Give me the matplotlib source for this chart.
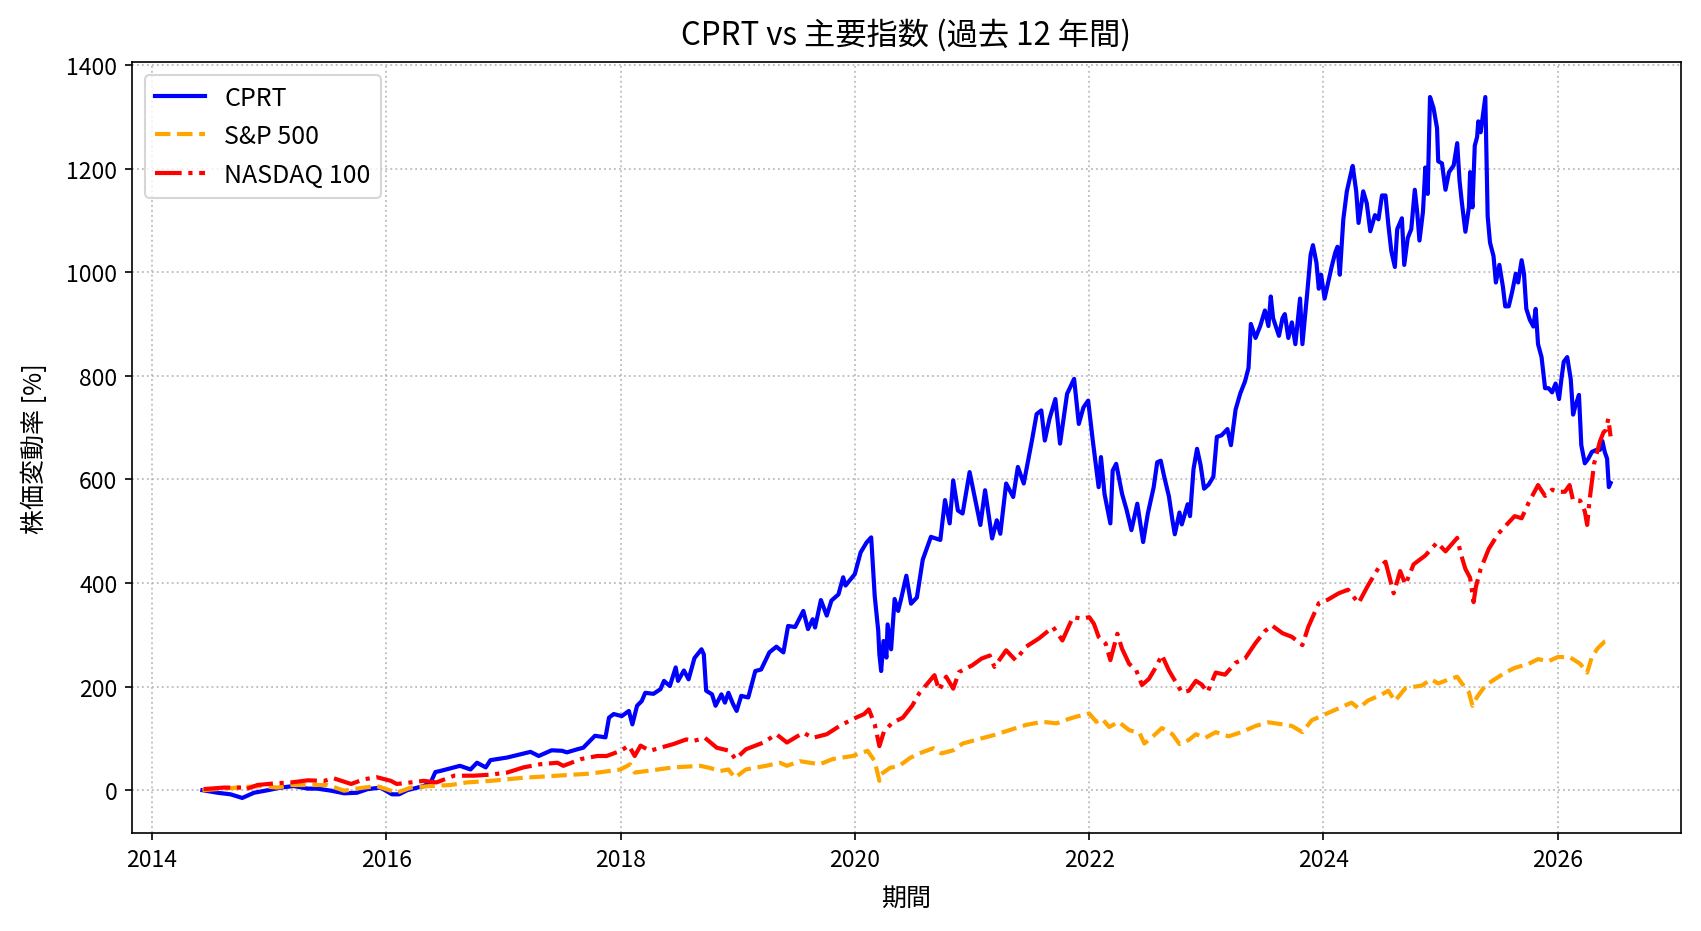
import matplotlib
matplotlib.use("Agg")
import matplotlib.pyplot as plt
import matplotlib.dates as mdates
import pandas as pd

plt.rcParams['font.family'] = ['Noto Sans CJK JP', 'DejaVu Sans']

# ---- data (fractional year, % change) ----
cprt_t = [
    2014.43, 2014.56, 2014.67, 2014.77, 2014.87, 2014.99, 2015.10, 2015.21, 2015.33, 2015.41,
    2015.53, 2015.64, 2015.75, 2015.84, 2015.95, 2016.05, 2016.11, 2016.18, 2016.32, 2016.38,
    2016.42, 2016.46, 2016.63, 2016.72, 2016.775, 2016.85, 2016.89, 2017.03, 2017.14, 2017.23,
    2017.30, 2017.37, 2017.41, 2017.50, 2017.54, 2017.63, 2017.68, 2017.78, 2017.87, 2017.90,
    2017.94, 2018.01, 2018.07, 2018.10, 2018.14, 2018.18, 2018.21, 2018.28, 2018.34, 2018.37,
    2018.42, 2018.47, 2018.49, 2018.54, 2018.58, 2018.63, 2018.69, 2018.71, 2018.73, 2018.78,
    2018.81, 2018.86, 2018.89, 2018.92, 2018.96, 2018.99, 2019.03, 2019.09, 2019.15, 2019.20,
    2019.27, 2019.33, 2019.39, 2019.43, 2019.49, 2019.56, 2019.60, 2019.64, 2019.66, 2019.71,
    2019.76, 2019.80, 2019.86, 2019.90, 2019.92, 2020.00, 2020.05, 2020.10, 2020.14, 2020.17,
    2020.20, 2020.21, 2020.225, 2020.245, 2020.27, 2020.28, 2020.31, 2020.34, 2020.37, 2020.395,
    2020.44, 2020.48, 2020.53, 2020.58, 2020.62, 2020.65, 2020.73, 2020.77, 2020.81, 2020.84,
    2020.88, 2020.92, 2020.98, 2021.07, 2021.11, 2021.17, 2021.21, 2021.24, 2021.29, 2021.35,
    2021.39, 2021.44, 2021.51, 2021.55, 2021.59, 2021.62, 2021.66, 2021.71, 2021.75, 2021.81,
    2021.87, 2021.91, 2021.95, 2021.99, 2022.03, 2022.08, 2022.10, 2022.13, 2022.18, 2022.20,
    2022.23, 2022.28, 2022.32, 2022.36, 2022.41, 2022.46, 2022.50, 2022.55, 2022.58, 2022.61,
    2022.64, 2022.68, 2022.71, 2022.73, 2022.77, 2022.79, 2022.84, 2022.86, 2022.89, 2022.92,
    2022.95, 2022.98, 2023.02, 2023.06, 2023.09, 2023.13, 2023.18, 2023.21, 2023.25, 2023.29,
    2023.33, 2023.36, 2023.38, 2023.42, 2023.46, 2023.50, 2023.53, 2023.55, 2023.57, 2023.62,
    2023.65, 2023.67, 2023.70, 2023.73, 2023.76, 2023.80, 2023.82, 2023.86, 2023.89, 2023.91,
    2023.94, 2023.96, 2023.98, 2024.01, 2024.04, 2024.07, 2024.10, 2024.12, 2024.14, 2024.17,
    2024.20, 2024.23, 2024.25, 2024.28, 2024.30, 2024.34, 2024.37, 2024.40, 2024.44, 2024.47,
    2024.50, 2024.53, 2024.555, 2024.58, 2024.61, 2024.63, 2024.67, 2024.69, 2024.72, 2024.75,
    2024.78, 2024.80, 2024.82, 2024.85, 2024.87, 2024.89, 2024.91, 2024.94, 2024.97, 2024.98,
    2025.01, 2025.04, 2025.07, 2025.11, 2025.14, 2025.16, 2025.18, 2025.21, 2025.24, 2025.25,
    2025.27, 2025.29, 2025.31, 2025.32, 2025.34, 2025.36, 2025.38, 2025.40, 2025.42, 2025.45,
    2025.47, 2025.50, 2025.53, 2025.55, 2025.58, 2025.61, 2025.64, 2025.66, 2025.69, 2025.71,
    2025.73, 2025.76, 2025.79, 2025.81, 2025.83, 2025.86, 2025.89, 2025.92, 2025.95, 2025.98,
    2026.01, 2026.03, 2026.05, 2026.08, 2026.11, 2026.13, 2026.15, 2026.18, 2026.20, 2026.23,
    2026.26, 2026.29, 2026.33, 2026.36, 2026.38, 2026.40, 2026.42, 2026.435, 2026.45,
]
cprt_v = [
    0, -5, -8, -15, -5, 0, 5, 8, 3, 3,
    -1, -6, -5, 2, 5, -8, -8, 0, 8, 15,
    35, 37, 47, 40, 53, 44, 58, 63, 69, 74,
    66, 73, 77, 76, 73, 79, 82, 105, 102, 140,
    147, 143, 153, 127, 163, 172, 188, 186, 195, 211,
    201, 237, 211, 231, 214, 255, 272, 262, 192, 185,
    163, 185, 169, 188, 166, 153, 182, 179, 230, 233,
    266, 277, 266, 317, 315, 346, 311, 330, 314, 367,
    337, 366, 378, 411, 395, 417, 459, 478, 488, 375,
    308, 262, 230, 288, 256, 320, 272, 369, 346, 369,
    414, 360, 372, 445, 470, 489, 483, 560, 515, 598,
    540, 534, 614, 512, 579, 486, 521, 495, 592, 566,
    624, 592, 675, 726, 733, 675, 717, 755, 669, 765,
    794, 707, 739, 752, 675, 585, 643, 572, 515, 617,
    630, 572, 540, 502, 553, 479, 534, 585, 633, 636,
    605, 567, 521, 494, 536, 513, 552, 529, 620, 659,
    628, 582, 590, 605, 682, 685, 697, 666, 735, 766,
    789, 815, 900, 873, 896, 926, 896, 953, 911, 877,
    911, 919, 873, 903, 861, 949, 861, 957, 1033, 1052,
    1018, 968, 995, 949, 980, 1010, 1037, 1049, 995, 1102,
    1156, 1186, 1205, 1156, 1095, 1156, 1133, 1079, 1110, 1102,
    1148, 1148, 1090, 1040, 1010, 1083, 1104, 1014, 1066, 1083,
    1159, 1117, 1061, 1117, 1202, 1151, 1338, 1317, 1278, 1214,
    1210, 1159, 1193, 1206, 1249, 1176, 1134, 1078, 1125, 1193,
    1125, 1244, 1261, 1291, 1270, 1304, 1338, 1108, 1057, 1031,
    980, 1014, 972, 934, 934, 963, 997, 980, 1023, 997,
    929, 908, 895, 929, 861, 836, 776, 776, 768, 785,
    755, 793, 827, 836, 793, 725, 742, 763, 666, 631,
    640, 653, 657, 657, 674, 653, 640, 585, 593,
]

sp_t = [
    2014.43, 2014.67, 2014.79, 2014.93, 2015.07, 2015.19, 2015.35, 2015.50, 2015.64, 2015.72,
    2015.81, 2015.92, 2016.04, 2016.09, 2016.21, 2016.38, 2016.55, 2016.69, 2016.89, 2017.17,
    2017.46, 2017.74, 2018.00, 2018.08, 2018.12, 2018.22, 2018.45, 2018.68, 2018.76, 2018.85,
    2018.92, 2018.975, 2019.07, 2019.24, 2019.36, 2019.42, 2019.53, 2019.70, 2019.81, 2019.98,
    2020.11, 2020.17, 2020.21, 2020.225, 2020.30, 2020.38, 2020.47, 2020.55, 2020.67, 2020.74,
    2020.84, 2020.92, 2021.03, 2021.18, 2021.32, 2021.46, 2021.60, 2021.72, 2021.83, 2021.89,
    2022.00, 2022.06, 2022.11, 2022.17, 2022.25, 2022.34, 2022.43, 2022.47, 2022.54, 2022.62,
    2022.71, 2022.77, 2022.85, 2022.91, 2022.99, 2023.08, 2023.19, 2023.30, 2023.42, 2023.53,
    2023.65, 2023.73, 2023.82, 2023.90, 2024.01, 2024.13, 2024.24, 2024.30, 2024.38, 2024.50,
    2024.555, 2024.61, 2024.70, 2024.84, 2024.92, 2024.98, 2025.07, 2025.14, 2025.18, 2025.24,
    2025.27, 2025.31, 2025.38, 2025.46, 2025.55, 2025.63, 2025.75, 2025.83, 2025.92, 2026.00,
    2026.10, 2026.19, 2026.25, 2026.29, 2026.34, 2026.40, 2026.45,
]
sp_v = [
    0, 4, 6, 8, 5, 10, 10, 10, -1, 2,
    5, 8, -1, -5, 5, 8, 10, 15, 18, 24,
    28, 32, 40, 50, 34, 37, 44, 47, 43, 37,
    40, 24, 40, 47, 53, 47, 56, 50, 60, 66,
    76, 56, 18, 31, 43, 47, 62, 71, 81, 71,
    77, 90, 97, 106, 116, 126, 132, 129, 138, 142,
    148, 132, 138, 122, 132, 116, 110, 90, 103, 120,
    108, 89, 97, 108, 101, 112, 104, 112, 124, 131,
    127, 124, 112, 135, 146, 158, 169, 158, 173, 185,
    192, 172, 197, 202, 214, 206, 214, 219, 206, 189,
    163, 180, 202, 214, 227, 236, 244, 253, 249, 257,
    257, 244, 227, 257, 274, 287, 290,
]

ndx_t = [
    2014.44, 2014.61, 2014.76, 2014.79, 2014.90, 2015.04, 2015.19, 2015.33, 2015.47, 2015.55,
    2015.70, 2015.81, 2015.92, 2016.04, 2016.09, 2016.21, 2016.32, 2016.43, 2016.58, 2016.75,
    2016.89, 2017.03, 2017.17, 2017.31, 2017.46, 2017.51, 2017.66, 2017.80, 2017.88, 2018.00,
    2018.07, 2018.12, 2018.17, 2018.25, 2018.34, 2018.45, 2018.56, 2018.62, 2018.72, 2018.82,
    2018.93, 2018.98, 2019.07, 2019.22, 2019.33, 2019.42, 2019.56, 2019.64, 2019.76, 2019.87,
    2019.98, 2020.08, 2020.12, 2020.17, 2020.21, 2020.25, 2020.32, 2020.41, 2020.49, 2020.55,
    2020.68, 2020.72, 2020.78, 2020.84, 2020.89, 2021.00, 2021.08, 2021.15, 2021.19, 2021.29,
    2021.37, 2021.46, 2021.57, 2021.69, 2021.77, 2021.86, 2021.94, 2022.00, 2022.04, 2022.08,
    2022.14, 2022.18, 2022.24, 2022.28, 2022.34, 2022.40, 2022.45, 2022.51, 2022.57, 2022.62,
    2022.68, 2022.74, 2022.79, 2022.85, 2022.91, 2022.96, 2023.01, 2023.08, 2023.16, 2023.25,
    2023.33, 2023.42, 2023.50, 2023.56, 2023.65, 2023.73, 2023.82, 2023.87, 2023.96, 2024.04,
    2024.13, 2024.21, 2024.30, 2024.38, 2024.47, 2024.53, 2024.60, 2024.655, 2024.70, 2024.77,
    2024.87, 2024.97, 2025.04, 2025.14, 2025.17, 2025.21, 2025.25, 2025.28, 2025.30, 2025.34,
    2025.41, 2025.49, 2025.58, 2025.63, 2025.69, 2025.75, 2025.83, 2025.89, 2025.95, 2026.00,
    2026.06, 2026.10, 2026.13, 2026.19, 2026.23, 2026.25, 2026.27, 2026.31, 2026.36, 2026.39,
    2026.41, 2026.43, 2026.45,
]
ndx_v = [
    2, 5, 5, 1, 10, 13, 15, 19, 18, 23,
    12, 21, 25, 18, 12, 15, 18, 15, 28, 28,
    30, 34, 44, 50, 53, 47, 60, 66, 66, 76,
    86, 66, 86, 76, 82, 89, 98, 95, 101, 82,
    76, 60, 79, 92, 108, 92, 111, 101, 108, 124,
    137, 147, 156, 127, 85, 114, 130, 140, 163, 187,
    222, 193, 219, 196, 228, 241, 254, 260, 238, 270,
    251, 277, 293, 315, 289, 334, 331, 334, 321, 296,
    283, 251, 302, 273, 244, 232, 203, 215, 238, 261,
    231, 208, 189, 192, 211, 204, 189, 227, 223, 246,
    254, 284, 307, 318, 303, 296, 280, 315, 361, 368,
    380, 387, 361, 395, 429, 441, 380, 423, 397, 436,
    453, 478, 461, 487, 457, 427, 410, 363, 393, 427,
    466, 495, 517, 529, 525, 555, 589, 568, 580, 576,
    576, 589, 559, 559, 538, 512, 559, 631, 674, 691,
    695, 717, 683,
]

series_names = ["CPRT", "S&P 500", "NASDAQ 100"]
title_text = "CPRT vs 主要指数 (過去 12 年間)"
xlabel_text = "期間"
ylabel_text = "株価変動率 [%]"


def to_dates(years):
    out = []
    for y in years:
        base = int(y)
        out.append(pd.Timestamp(base, 1, 1) + pd.Timedelta(days=(y - base) * 365.25))
    return out


W, H, DPI = 1702, 932, 150
fig = plt.figure(figsize=(W / DPI, H / DPI), dpi=DPI)
ax = fig.add_axes([132 / W, 1 - 834 / H, (1681 - 132) / W, (834 - 63) / H])

ax.plot(to_dates(cprt_t), cprt_v, color="blue", linestyle="-", linewidth=2, label=series_names[0])
ax.plot(to_dates(sp_t), sp_v, color="orange", linestyle="--", linewidth=2, label=series_names[1])
ax.plot(to_dates(ndx_t), ndx_v, color="red", linestyle="-.", linewidth=2, label=series_names[2])

ax.xaxis.set_major_locator(mdates.YearLocator(2))
ax.xaxis.set_major_formatter(mdates.DateFormatter("%Y"))
ax.set_yticks(range(0, 1401, 200))

ax.grid(True, linestyle=":", color="#b0b0b0", linewidth=0.9, alpha=0.8)
ax.tick_params(labelsize=11)
ax.set_title(title_text, fontsize=15, pad=9)
ax.set_xlabel(xlabel_text, fontsize=12, labelpad=7)
ax.set_ylabel(ylabel_text, fontsize=12, labelpad=9)
ax.legend(loc="upper left", fontsize=12)

fig.savefig("out.png", dpi=DPI)
